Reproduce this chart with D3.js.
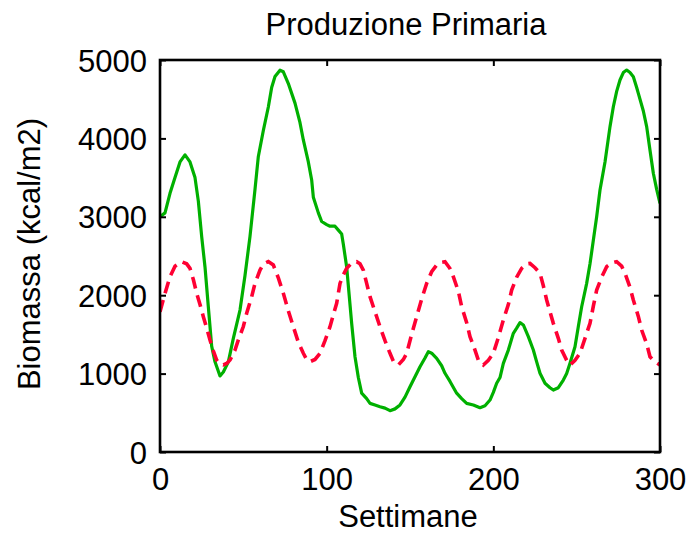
<!DOCTYPE html>
<html>
<head>
<meta charset="utf-8">
<script src="https://cdn.jsdelivr.net/npm/d3@7"></script>
<style>
  html, body { margin: 0; padding: 0; background: #fff; }
  svg { display: block; }
  text { font-family: "Liberation Sans", Arial, sans-serif; fill: #000; }
</style>
</head>
<body>
<svg id="chart" width="690" height="533"></svg>
<script>
const title = "Produzione Primaria";
const xLabel = "Settimane";
const yLabel = "Biomassa (kcal/m2)";
const xTicks = [0, 100, 200, 300];
const yTicks = [0, 1000, 2000, 3000, 4000, 5000];

const greenWeeks = [0,3,6,9,12,15,18,21,23,25,27,29,31,33,36,38,41,44,48,51,54,57,59,62,65,67,69,72,74,77,81,84,86,89,91,92,95,97,100,102,105,107,109,110,112,115,117,119,121,124,126,129,132,135,138,141,144,147,150,153,156,159,161,163,166,169,171,174,178,181,184,188,192,195,198,200,202,204,206,209,212,214,216,218,221,224,226,228,231,234,236,239,242,244,246,249,251,253,256,258,260,262,264,267,270,272,274,276,278,280,282,284,286,287,290,292,294,296,298,300];
const greenValues = [3000,3050,3300,3500,3700,3790,3700,3500,3200,2750,2360,1850,1350,1150,970,1020,1150,1450,1810,2250,2750,3350,3770,4100,4400,4650,4790,4870,4850,4700,4450,4200,3980,3700,3470,3250,3050,2940,2900,2880,2880,2830,2780,2650,2360,1640,1215,950,750,680,620,600,578,560,527,550,600,700,833,960,1088,1200,1280,1260,1195,1100,1004,900,750,680,620,600,565,590,663,760,876,950,1131,1300,1514,1580,1650,1620,1471,1301,1150,1004,876,820,790,820,918,1000,1131,1343,1600,1853,2151,2400,2700,3000,3342,3700,4150,4404,4600,4745,4840,4872,4840,4787,4650,4575,4350,4150,3850,3555,3350,3172];

const redWeeks = [0,3,6,9,13,16,18,20,22,24,26,28,30,32,34,36,38,40,42,45,47,50,52,55,57,60,62,65,68,71,74,77,80,83,86,88,90,93,96,99,102,104,106,108,110,112,115,118,120,122,124,126,129,132,135,138,140,143,146,148,151,154,157,160,163,166,169,171,174,176,179,181,184,186,189,191,194,197,200,203,206,209,211,214,217,220,222,225,228,230,232,234,236,239,241,244,246,249,252,255,258,260,262,265,268,271,274,277,279,282,284,287,289,292,294,297,300];
const redValues = [1790,2020,2236,2370,2427,2400,2343,2200,2024,1880,1726,1580,1429,1290,1173,1120,1110,1130,1173,1300,1429,1600,1769,1980,2151,2320,2400,2430,2385,2220,2024,1800,1598,1400,1259,1180,1152,1180,1259,1420,1598,1750,1897,2151,2260,2343,2410,2427,2400,2321,2150,1981,1790,1598,1420,1259,1160,1110,1180,1259,1500,1726,1950,2151,2300,2385,2420,2427,2340,2236,2050,1853,1650,1471,1300,1173,1110,1170,1259,1460,1684,1880,2066,2230,2343,2400,2406,2350,2280,2120,1939,1790,1641,1450,1301,1170,1110,1170,1259,1450,1641,1860,2066,2230,2364,2410,2427,2370,2280,2100,1939,1730,1556,1380,1215,1150,1110];

const svg = d3.select("#chart");
const L = 160, R = 660, T = 60, B = 452;
const fs = 31;

const x = d3.scaleLinear().domain([0, 300]).range([L, R]);
const y = d3.scaleLinear().domain([0, 5000]).range([B, T]);

svg.append("defs").append("clipPath").attr("id", "clip")
  .append("rect").attr("x", L).attr("y", T).attr("width", R - L).attr("height", B - T);

const line = d3.line().x(d => x(d[0])).y(d => y(d[1]));

const red = redWeeks.map((w, i) => [w, redValues[i]]);
const green = greenWeeks.map((w, i) => [w, greenValues[i]]);

const g = svg.append("g").attr("clip-path", "url(#clip)");
g.append("path").datum(green)
  .attr("d", line).attr("fill", "none")
  .attr("stroke", "#00b000").attr("stroke-width", 3.2)
  .attr("stroke-linejoin", "round");
g.append("path").datum(red)
  .attr("d", line).attr("fill", "none")
  .attr("stroke", "#ff0033").attr("stroke-width", 3.6)
  .attr("stroke-dasharray", "12,7");

// axes with inward ticks
const tl = 6;
const axB = d3.axisBottom(x).tickValues(xTicks).tickSize(-tl).tickFormat(d3.format("d"));
const axT = d3.axisTop(x).tickValues(xTicks).tickSize(-tl).tickFormat("");
const axL = d3.axisLeft(y).tickValues(yTicks).tickSize(-tl).tickFormat(d3.format("d"));
const axR = d3.axisRight(y).tickValues(yTicks).tickSize(-tl).tickFormat("");

function style(sel) {
  sel.select(".domain").remove();
  sel.selectAll(".tick line").attr("stroke", "#000").attr("stroke-width", 2);
  sel.selectAll(".tick text").style("font-size", fs + "px")
     .style("font-family", '"Liberation Sans", Arial, sans-serif').attr("fill", "#000");
}

const gb = svg.append("g").attr("transform", `translate(0,${B})`).call(axB);
style(gb);
gb.selectAll(".tick text").attr("y", 0).attr("dy", null).attr("transform", "translate(0,38)");

svg.append("g").attr("transform", `translate(0,${T})`).call(axT).call(style);

const gl = svg.append("g").attr("transform", `translate(${L},0)`).call(axL);
style(gl);
gl.selectAll(".tick text").attr("x", -13).attr("dy", null).attr("y", 11);

svg.append("g").attr("transform", `translate(${R},0)`).call(axR).call(style);

// box
svg.append("rect").attr("x", L).attr("y", T).attr("width", R - L).attr("height", B - T)
  .attr("fill", "none").attr("stroke", "#000").attr("stroke-width", 2.6);

// labels
svg.append("text").attr("x", 406).attr("y", 35).attr("text-anchor", "middle")
  .style("font-size", fs + "px").text(title);
svg.append("text").attr("x", 408).attr("y", 527).attr("text-anchor", "middle")
  .style("font-size", fs + "px").text(xLabel);
svg.append("text").attr("transform", "translate(39.5,254) rotate(-90)")
  .attr("text-anchor", "middle").style("font-size", fs + "px").text(yLabel);
</script>
</body>
</html>
